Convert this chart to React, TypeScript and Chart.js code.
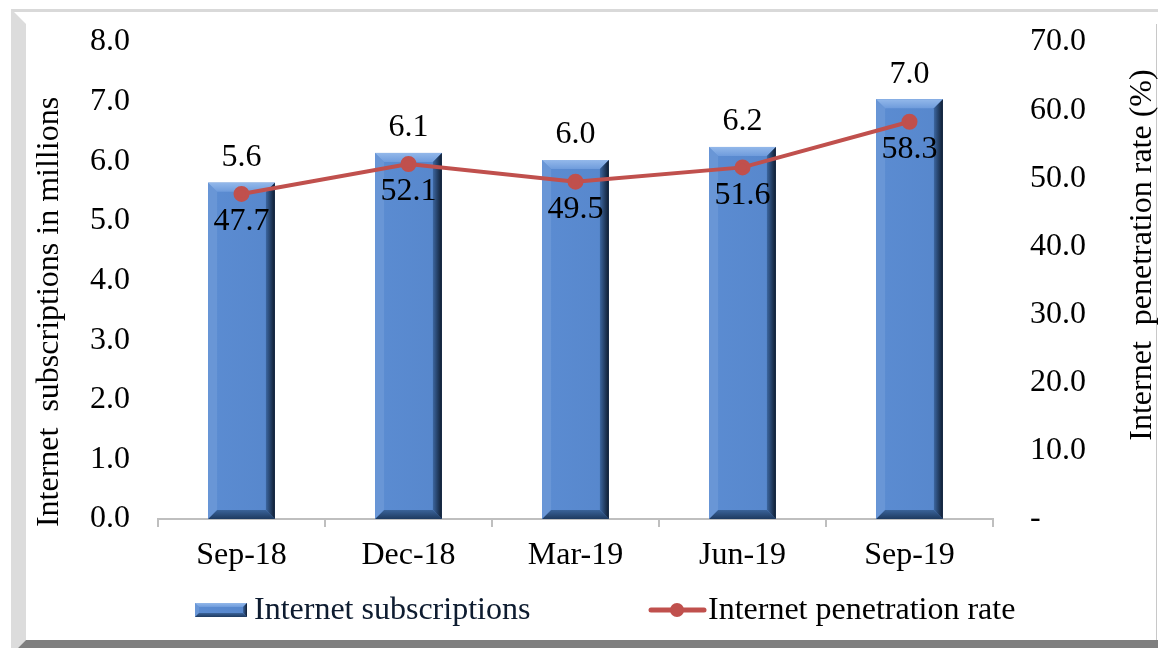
import React, { useEffect, useRef } from "react";
import { Chart, registerables } from "chart.js";

Chart.register(...registerables);

const categories = ["Sep-18", "Dec-18", "Mar-19", "Jun-19", "Sep-19"];
const subscriptions = [5.64, 6.14, 6.02, 6.24, 7.04];
const penetration = [47.7, 52.1, 49.5, 51.6, 58.3];
const seriesNames = ["Internet subscriptions", "Internet penetration rate"];
const leftTitle = "Internet  subscriptions in millions";
const rightTitle = "Internet  penetration rate (%)";

const W = 1158;
const H = 648;
const FONT = '"Liberation Serif", "Times New Roman", serif';
const FS = 32;
const LINE = "#c0504d";

function drawBevelBar(ctx: CanvasRenderingContext2D, l: number, t: number, r: number, bt: number, b: number) {
  const face = ctx.createLinearGradient(l, 0, r, 0);
  face.addColorStop(0, "#5b8cd2");
  face.addColorStop(1, "#5787cc");
  ctx.fillStyle = face;
  ctx.fillRect(l, t, r - l, bt - t);
  ctx.fillStyle = "#6996d6";
  ctx.beginPath();
  ctx.moveTo(l, t); ctx.lineTo(l + b, t + b); ctx.lineTo(l + b, bt - b); ctx.lineTo(l, bt); ctx.closePath(); ctx.fill();
  const tg = ctx.createLinearGradient(0, t, 0, t + b);
  tg.addColorStop(0, "#93b8ea");
  tg.addColorStop(1, "#6f9cdc");
  ctx.fillStyle = tg;
  ctx.beginPath();
  ctx.moveTo(l, t); ctx.lineTo(r, t); ctx.lineTo(r - b, t + b); ctx.lineTo(l + b, t + b); ctx.closePath(); ctx.fill();
  const bg = ctx.createLinearGradient(0, bt - b, 0, bt);
  bg.addColorStop(0, "#3a6399");
  bg.addColorStop(1, "#1e3a60");
  ctx.fillStyle = bg;
  ctx.beginPath();
  ctx.moveTo(l, bt); ctx.lineTo(r, bt); ctx.lineTo(r - b, bt - b); ctx.lineTo(l + b, bt - b); ctx.closePath(); ctx.fill();
  const rg = ctx.createLinearGradient(r - b, 0, r, 0);
  rg.addColorStop(0, "#3c66a0");
  rg.addColorStop(1, "#0e1c30");
  ctx.fillStyle = rg;
  ctx.beginPath();
  ctx.moveTo(r, t); ctx.lineTo(r, bt); ctx.lineTo(r - b, bt - b); ctx.lineTo(r - b, t + b); ctx.closePath(); ctx.fill();
}

function drawVertical(ctx: CanvasRenderingContext2D, text: string, x: number, y: number) {
  ctx.save();
  ctx.translate(x, y);
  ctx.rotate(-Math.PI / 2);
  ctx.textAlign = "center";
  ctx.textBaseline = "middle";
  ctx.fillText(text, 0, 0);
  ctx.restore();
}

const framePlugin = {
  id: "frame",
  beforeDraw(chart: any) {
    const ctx: CanvasRenderingContext2D = chart.ctx;
    ctx.save();
    ctx.fillStyle = "#ffffff";
    ctx.fillRect(0, 0, W, H);
    ctx.fillStyle = "#d9d9d9";
    ctx.fillRect(11, 9, W - 11, 3);
    ctx.fillStyle = "#dcdcdc";
    ctx.beginPath();
    ctx.moveTo(11, 9); ctx.lineTo(26, 24); ctx.lineTo(26, 640); ctx.lineTo(18, 648); ctx.lineTo(11, 648); ctx.closePath(); ctx.fill();
    ctx.fillStyle = "#7f7f7f";
    ctx.beginPath();
    ctx.moveTo(26, 640); ctx.lineTo(W, 640); ctx.lineTo(W, H); ctx.lineTo(18, H); ctx.closePath(); ctx.fill();
    ctx.fillStyle = "#c8c8c8";
    ctx.fillRect(1156, 24, 1, 616);
    ctx.restore();
  },
  afterDatasetDraw(chart: any, args: any) {
    if (args.index !== 0) return;
    const ctx: CanvasRenderingContext2D = chart.ctx;
    ctx.save();
    chart.getDatasetMeta(0).data.forEach((el: any) => {
      const p = el.getProps(["x", "y", "base", "width"], true);
      drawBevelBar(ctx, p.x - p.width / 2, p.y, p.x + p.width / 2, p.base, 9);
    });
    ctx.restore();
  },
  afterDatasetsDraw(chart: any) {
    const ctx: CanvasRenderingContext2D = chart.ctx;
    ctx.save();
    ctx.font = `${FS}px ${FONT}`;
    ctx.fillStyle = "#000";
    ctx.textAlign = "center";
    ctx.textBaseline = "middle";
    chart.getDatasetMeta(0).data.forEach((el: any, i: number) => {
      ctx.fillText(subscriptions[i].toFixed(1), el.x, el.y - 25);
    });
    chart.getDatasetMeta(1).data.forEach((el: any, i: number) => {
      ctx.fillText(penetration[i].toFixed(1), el.x, el.y + 28);
    });
    // axis titles
    const area = chart.chartArea;
    drawVertical(ctx, leftTitle, 50, area.bottom - 207);
    drawVertical(ctx, rightTitle, 1143, area.bottom - 264);
    // legend
    const ly = 610;
    drawBevelBar(ctx, 195, ly - 7, 247, ly + 7, 4);
    ctx.textAlign = "left";
    ctx.fillText(seriesNames[0], 254, ly + 1);
    ctx.strokeStyle = LINE;
    ctx.lineWidth = 5;
    ctx.lineCap = "round";
    ctx.beginPath();
    ctx.moveTo(651, ly); ctx.lineTo(704, ly); ctx.stroke();
    ctx.fillStyle = LINE;
    ctx.beginPath();
    ctx.arc(677, ly, 7, 0, Math.PI * 2); ctx.fill();
    ctx.fillStyle = "#000";
    ctx.fillText(seriesNames[1], 708, ly + 1);
    ctx.restore();
  },
};

export default function App() {
  const ref = useRef<HTMLCanvasElement>(null);
  useEffect(() => {
    if (!ref.current) return;
    const chart = new Chart(ref.current, {
      data: {
        labels: categories,
        datasets: [
          {
            type: "bar",
            label: seriesNames[0],
            data: subscriptions,
            backgroundColor: "#5b8cd2",
            yAxisID: "y",
            barPercentage: 0.8,
            categoryPercentage: 0.5,
            order: 2,
          },
          {
            type: "line",
            label: seriesNames[1],
            data: penetration,
            borderColor: LINE,
            backgroundColor: LINE,
            borderWidth: 4,
            pointRadius: 6,
            pointHoverRadius: 6,
            pointBackgroundColor: LINE,
            pointBorderColor: LINE,
            yAxisID: "y1",
            order: 1,
          },
        ],
      } as any,
      options: {
        responsive: false,
        animation: false,
        devicePixelRatio: 1,
        layout: { padding: { left: 28, right: 0, top: 42, bottom: 73 } },
        plugins: { legend: { display: false }, tooltip: { enabled: false } },
        scales: {
          x: {
            grid: { display: true, offset: true, drawOnChartArea: false, drawTicks: true, tickLength: 8, color: "#bfbfbf", lineWidth: 2 },
            border: { display: true, color: "#bfbfbf", width: 2 },
            ticks: { font: { family: FONT, size: FS }, color: "#000", padding: 9 },
            afterFit: (s: any) => { s.height = 56; },
          },
          y: {
            position: "left",
            min: 0,
            max: 8,
            ticks: { stepSize: 1, font: { family: FONT, size: FS }, color: "#000", padding: 8, callback: (v: any) => Number(v).toFixed(1) },
            grid: { display: false, drawTicks: true, tickLength: 20 },
            border: { display: false },
            afterFit: (s: any) => { s.width = 130; },
          },
          y1: {
            position: "right",
            min: 0,
            max: 70,
            ticks: { stepSize: 10, font: { family: FONT, size: FS }, color: "#000", padding: 13, callback: (v: any) => (Number(v) === 0 ? "-" : Number(v).toFixed(1)) },
            grid: { display: false, drawTicks: true, tickLength: 24 },
            border: { display: false },
            afterFit: (s: any) => { s.width = 165; },
          },
        },
      } as any,
      plugins: [framePlugin],
    });
    return () => chart.destroy();
  }, []);
  return (
    <canvas
      ref={ref}
      width={W}
      height={H}
      style={{ position: "fixed", left: 0, top: 0, width: W, height: H, display: "block" }}
    />
  );
}
